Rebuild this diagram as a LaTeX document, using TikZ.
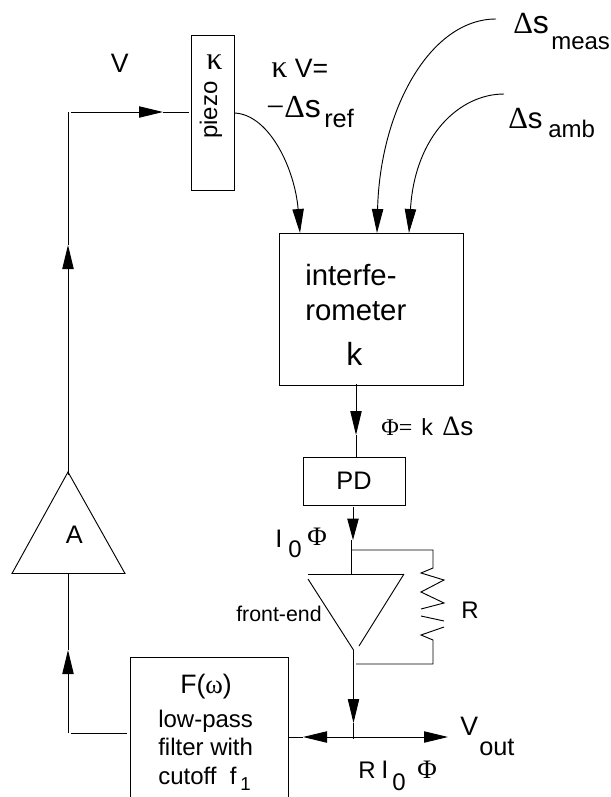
\documentclass[tikz,border=0pt]{standalone}
\usepackage{fontspec}
\setmainfont{Liberation Sans}
\newfontfamily\symb{Liberation Serif}
\usetikzlibrary{arrows.meta}

\begin{document}
\begin{tikzpicture}[x=0.75pt,y=-0.75pt,
    box/.style={draw,line width=0.7pt,inner sep=0pt},
    wire/.style={line width=0.7pt},
    arrow/.style={wire,-{Triangle[length=18pt,width=8.5pt]}},
    lab/.style={anchor=base west,inner sep=0pt,font=\fontsize{18}{20}\selectfont},
    labbig/.style={lab,font=\fontsize{22}{24}\selectfont},
    labsmall/.style={lab,font=\fontsize{16}{18}\selectfont}]
  \useasboundingbox (0,0) rectangle (611,797);

  \node[box,minimum width=32pt,minimum height=115.7pt] (piezo) at (213,113) {};
  \node[box,minimum width=138pt,minimum height=114pt] (interf) at (371,309) {};
  \node[box,minimum width=76.5pt,minimum height=36pt,font=\fontsize{19}{21}\selectfont] (pd) at (354,481) {PD};
  \node[box,minimum width=118.5pt,minimum height=114pt] (filter) at (209,733) {};

  % points on the wires
  \coordinate (ampapex) at (68,472);
  \coordinate (ampleft) at (12,573.5);
  \coordinate (ampright) at (125,573.5);
  \coordinate (fbcorner) at (68,733);
  \coordinate (fbtipa) at (68,650);
  \coordinate (fbtipb) at (68,245);
  \coordinate (fbtop) at (68,112);
  \coordinate (fbtipc) at (163,112);
  \coordinate (fbend) at (189,112);
  \coordinate (refin) at (300,233);
  \coordinate (measin) at (377,233);
  \coordinate (ambin) at (409,233);
  \coordinate (measstart) at (496,19);
  \coordinate (ambstart) at (504,94);
  \coordinate (interfout) at (356,384);
  \coordinate (phitip) at (356,435);
  \coordinate (pdin) at (356,457);
  \coordinate (pdout) at (353,507);
  \coordinate (itip) at (353,540);
  \coordinate (ijoin) at (351,550);
  \coordinate (feinput) at (351,574);
  \coordinate (feleft) at (308,574);
  \coordinate (feright) at (404,574);
  \coordinate (feapex) at (353.5,650);
  \coordinate (fbjoin) at (356,664);
  \coordinate (rtop) at (433,550);
  \coordinate (rbot) at (433,664);
  \coordinate (outtip) at (353.5,723);
  \coordinate (outjoin) at (353.5,739);
  \coordinate (outmid) at (353.5,737);
  \coordinate (filterin) at (288,737);
  \coordinate (filtertip) at (303,737);
  \coordinate (vouttip) at (448,737);

  % feedback loop
  \draw[wire] (ampapex) -- (ampleft) -- (ampright) -- cycle;
  \draw[wire] ([xshift=-2pt]filter.west) -- ([xshift=2pt]fbcorner);
  \draw[arrow] (fbcorner) -- (fbtipa);
  \draw[wire] (fbtipa) -- (ampleft -| ampapex);
  \draw[arrow] ([yshift=-2pt]ampapex) -- (fbtipb);
  \draw[wire] (fbtipb) -- (fbtop);
  \draw[arrow] ([xshift=2pt]fbtop) -- (fbtipc);
  \draw[wire] (fbtipc) -- (fbend);

  % inputs of the interferometer
  \draw[arrow] (piezo.east) .. controls (270,115) and (295,170) .. (refin);
  \draw[arrow] (measstart) .. controls (430,19) and (380,110) .. (measin);
  \draw[arrow] (ambstart) .. controls (460,94) and (415,135) .. (ambin);

  \draw[arrow] (interfout) -- (phitip);
  \draw[wire] (phitip) -- (pdin);
  \draw[arrow,-{Triangle[length=16pt,width=8.5pt]}] (pdout) -- (itip);

  % front-end with feedback resistor
  \draw[wire] (itip -| ijoin) -- (feinput);
  \draw[wire] (feleft) -- (feright);
  \draw[wire] (308,579) -- (feapex);
  \draw[wire] (feright) -- (359,646);
  \draw[wire] (ijoin) -- (rtop) -- (433,568) -- (421,573) -- (444,580) -- (421,592)
    -- (444,603) -- (421,609);
  \draw[wire] (421,616) -- (444,621);
  \draw[wire] (444,627) -- (421,635) -- (433,640) -- (rbot) -- (fbjoin);

  % output
  \draw[arrow] (feapex) -- (outtip);
  \draw[wire] (outtip) -- (outjoin);
  \draw[arrow] (outmid) -- (filtertip);
  \draw[wire] (filtertip) -- (filterin);
  \draw[arrow] (outmid) -- (vouttip);

  % labels
  \node[lab,font=\fontsize{20}{22}\selectfont] (vlabel) at (110.5,72) {V};
  \node[lab,font=\fontsize{24}{26}\symb] (kappa) at (206,69) {κ};
  \node[lab,anchor=base,rotate=90,font=\fontsize{18}{20}\selectfont] (piezotxt) at (217,110) {piezo};
  \node[lab,font=\fontsize{20}{22}\selectfont] (kv) at (271,77) {{\fontsize{24}{26}\symb κ} V=};
  \node[lab] (dsref) at (266,117) {{\fontsize{24}{26}\symb −Δ}{\fontsize{24}{26}\selectfont s}};
  \node[lab,font=\fontsize{19}{21}\selectfont] (ref) at (324,127) {ref};
  \node[lab] (dsmeas) at (513,33) {{\fontsize{23}{25}\symb Δ}{\fontsize{24}{26}\selectfont s}};
  \node[lab] (meas) at (551,49) {meas};
  \node[lab] (dsamb) at (508,128) {{\fontsize{23}{25}\symb Δ}{\fontsize{22}{24}\selectfont s}};
  \node[lab] (amb) at (548,137) {amb};
  \node[labbig] (interfa) at (305,285) {interfe-};
  \node[labbig] (interfb) at (305,320) {rometer};
  \node[lab,font=\fontsize{24}{26}\selectfont] (ktxt) at (346,365) {k};
  \node[labsmall,font=\fontsize{18}{20}\symb] (phieq) at (381,435) {Φ=};
  \node[lab,font=\fontsize{17.5}{19}\selectfont] (ksym) at (421,435) {k};
  \node[lab] (dsphi) at (442,435) {{\fontsize{21}{23}\symb Δ}{\fontsize{19.5}{21}\selectfont s}};
  \node[lab,font=\fontsize{19}{21}\selectfont] (ione) at (275,547) {I};
  \node[lab] (izero) at (288,557) {0};
  \node[lab,font=\fontsize{20}{22}\symb] (phione) at (307,545) {Φ};
  \node[labsmall] (frontend) at (236,621) {front-end};
  \node[lab] (rlabel) at (461,618) {R};
  \node[lab,font=\fontsize{19}{21}\selectfont] (alabel) at (65.5,543) {A};
  \node[lab,font=\fontsize{20}{22}\selectfont] (ftxt) at (180,693) {F({\symb ω})};
  \node[lab] (lowpass) at (158,727) {low-pass};
  \node[lab] (filtertxt) at (158,755) {filter with};
  \node[lab] (cutoff) at (158,784) {cutoff\ \ f};
  \node[lab,font=\fontsize{14}{16}\selectfont] (fsub) at (240,790) {1};
  \node[lab,font=\fontsize{20}{22}\selectfont] (vout) at (460,735) {V};
  \node[lab,font=\fontsize{19}{21}\selectfont] (outsub) at (479,755) {out};
  \node[lab] (rr) at (358,778) {R};
  \node[lab,font=\fontsize{19}{21}\selectfont] (itwo) at (381,778) {I};
  \node[lab] (zerotwo) at (392,790) {0};
  \node[lab,font=\fontsize{20}{22}\symb] (phitwo) at (417,778) {Φ};
\end{tikzpicture}
\end{document}
